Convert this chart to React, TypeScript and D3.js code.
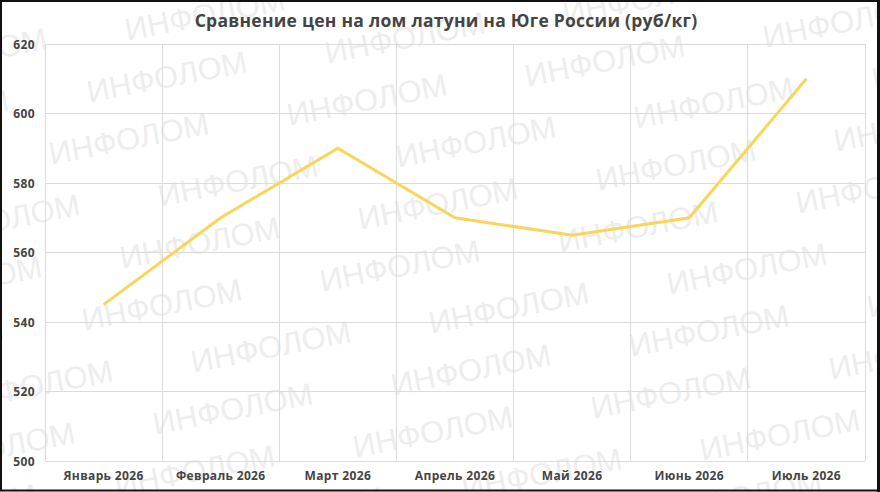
import React from "react";
import * as d3 from "d3";

// chart data
const months = [
  "Январь 2026",
  "Февраль 2026",
  "Март 2026",
  "Апрель 2026",
  "Май 2026",
  "Июнь 2026",
  "Июль 2026",
];
const prices = [545, 570, 590, 570, 565, 570, 610];
const yTicks = [500, 520, 540, 560, 580, 600, 620];
const title = "Сравнение цен на лом латуни на Юге России (руб/кг)";
const watermarkText = "ИНФОЛОМ";

const width = 880;
const height = 492;
const margin = { top: 44, right: 15, bottom: 31, left: 45 };

// watermark tiles: groups of three words, groups laid on a skewed lattice
const wmOrigin = [205, 15];
const wmStep = [-38, 62];
const wmGroupU = [33, 166];
const wmGroupV = [238, -39];

function watermarkSpots() {
  const spots: [number, number][] = [];
  for (let i = -2; i <= 4; i++) {
    for (let j = -2; j <= 5; j++) {
      for (let k = 0; k < 3; k++) {
        const x = wmOrigin[0] + i * wmGroupU[0] + j * wmGroupV[0] + k * wmStep[0];
        const y = wmOrigin[1] + i * wmGroupU[1] + j * wmGroupV[1] + k * wmStep[1];
        if (x > -100 && x < width + 100 && y > -40 && y < height + 40) spots.push([x, y]);
      }
    }
  }
  return spots;
}

export default function App() {
  const x = d3
    .scaleBand<string>()
    .domain(months)
    .range([margin.left, width - margin.right])
    .padding(0);
  const y = d3
    .scaleLinear()
    .domain([500, 620])
    .range([height - margin.bottom, margin.top]);

  const line = d3
    .line<number>()
    .x((_, i) => (x(months[i]) as number) + x.bandwidth() / 2)
    .y((d) => y(d));

  const vLines = months.map((m) => x(m) as number).concat([width - margin.right]);
  const font = "'Open Sans', 'DejaVu Sans', sans-serif";

  return (
    <svg
      width={width}
      height={height}
      style={{ position: "absolute", left: 0, top: 0, background: "#fff" }}
    >
      <rect x={0} y={0} width={width} height={height} fill="#fff" />

      {/* watermark */}
      <g fontFamily="'Liberation Sans', Arial, sans-serif" fontSize={31} fill="#ededed">
        {watermarkSpots().map(([wx, wy], i) => (
          <text
            key={i}
            x={wx}
            y={wy}
            textAnchor="middle"
            dominantBaseline="central"
            transform={`rotate(-11, ${wx}, ${wy})`}
          >
            {watermarkText}
          </text>
        ))}
      </g>

      {/* grid */}
      <g stroke="#dcdcdc" strokeWidth={1} shapeRendering="crispEdges">
        {yTicks.map((t) => (
          <line key={t} x1={margin.left} x2={width - margin.right} y1={y(t)} y2={y(t)} />
        ))}
        {vLines.map((vx, i) => (
          <line key={i} x1={vx} x2={vx} y1={margin.top} y2={height - margin.bottom} />
        ))}
      </g>

      {/* y axis labels */}
      <g fontFamily={font} fontWeight="bold" fontSize={12} fill="#444" letterSpacing={0.4}>
        {yTicks.map((t) => (
          <text key={t} x={35} y={y(t)} textAnchor="end" dominantBaseline="central">
            {t}
          </text>
        ))}
      </g>

      {/* x axis labels */}
      <g fontFamily={font} fontWeight="bold" fontSize={12} fill="#444" letterSpacing={0.35}>
        {months.map((m) => (
          <text key={m} x={(x(m) as number) + x.bandwidth() / 2} y={480} textAnchor="middle">
            {m}
          </text>
        ))}
      </g>

      {/* series */}
      <path
        d={line(prices) || ""}
        fill="none"
        stroke="#fad55c"
        strokeWidth={3}
        strokeLinejoin="miter"
      />

      {/* title */}
      <text
        x={446}
        y={27}
        textAnchor="middle"
        fontFamily={font}
        fontWeight="bold"
        fontSize={17.5}
        letterSpacing={0.25}
        fill="#444"
      >
        {title}
      </text>

      {/* dark frame */}
      <rect x={1} y={1} width={width - 2.5} height={height - 2.5} fill="none" stroke="#111" strokeWidth={2} />
      <line x1={878.5} x2={878.5} y1={0} y2={height} stroke="#111" strokeWidth={3} />
    </svg>
  );
}
